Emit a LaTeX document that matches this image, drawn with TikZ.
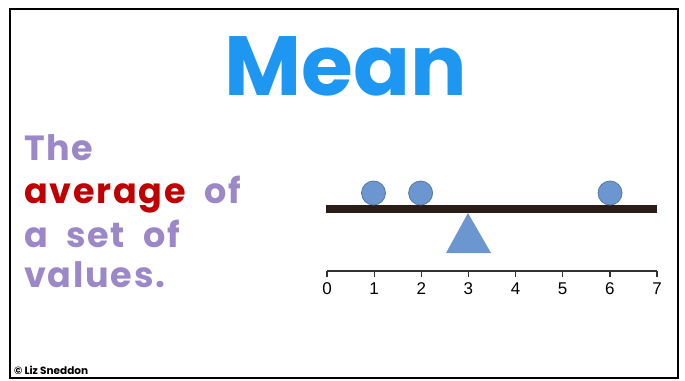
\documentclass[tikz,border=0pt]{standalone}
\usepackage{fontspec}
\usepackage{tikz}
\setmainfont{Poppins}
\newfontfamily\defnfont{Poppins}[LetterSpace=5, WordSpace=2]
\newfontfamily\axisfont{Liberation Sans}
\definecolor{meanblue}{HTML}{1E97F2}
\definecolor{lavender}{HTML}{9C88C9}
\definecolor{avgred}{HTML}{C00000}
\definecolor{weightblue}{HTML}{6C96CF}
\definecolor{beambrown}{HTML}{2A1C16}

\begin{document}
\begin{tikzpicture}[x=1pt, y=-1pt,
    weight/.style={circle, fill=weightblue, draw=weightblue!80!black, line width=0.8pt, minimum size=24pt, inner sep=0pt},
    defn/.style={anchor=base west, text=lavender, font=\defnfont\bfseries\fontsize{35}{35}\selectfont, inner sep=0pt},
    tick/.style={line width=1.2pt, black!80},
    num/.style={anchor=base, font=\axisfont\fontsize{17}{17}\selectfont}]
                    \useasboundingbox (0,0) rectangle (685,380);
                    % Frame
                    \draw[line width=2.6pt] (10,9) rectangle (678,378);
                    % Title
                    \node[anchor=base, text=meanblue, font=\bfseries\fontsize{84}{84}\selectfont] (title) at (346,95) {Mean};
                    % Definition
                    \node[defn] (line1) at (24,160) {The};
                    \node[defn] (line2) at (24,203) {\textcolor{avgred}{average} of};
                    \node[defn] (line3) at (24,247) {a set of};
                    \node[defn] (line4) at (24,287) {values.};
                    \node[anchor=base west, font=\bfseries\fontsize{10.5}{10.5}\selectfont, inner sep=0pt] (credit) at (14,374) {\textcopyright\ Liz Sneddon};
                    % Seesaw
                    \fill[beambrown] (326,205) rectangle (657,213);
                    \fill[weightblue] (468,213) -- (491,253) -- (446,253) -- cycle;
                    \node[weight] (w1) at (373.5,193) {};
                    \node[weight] (w2) at (420.6,193) {};
                    \node[weight] (w6) at (610,193) {};
                    % Axis
                    \draw[line width=1.2pt, black!80] (327,271) -- (657,271);
                    \draw[tick] (327,271) -- (327,277);
                    \draw[tick] (374.1,271) -- (374.1,277);
                    \draw[tick] (421.3,271) -- (421.3,277);
                    \draw[tick] (468.4,271) -- (468.4,277);
                    \draw[tick] (515.6,271) -- (515.6,277);
                    \draw[tick] (562.7,271) -- (562.7,277);
                    \draw[tick] (609.9,271) -- (609.9,277);
                    \draw[tick] (657,271) -- (657,277);
                    \node[num] (n0) at (327,294) {0};
                    \node[num] (n1) at (374.1,294) {1};
                    \node[num] (n2) at (421.3,294) {2};
                    \node[num] (n3) at (468.4,294) {3};
                    \node[num] (n4) at (515.6,294) {4};
                    \node[num] (n5) at (562.7,294) {5};
                    \node[num] (n6) at (609.9,294) {6};
                    \node[num] (n7) at (657,294) {7};
                \end{tikzpicture}
\end{document}
